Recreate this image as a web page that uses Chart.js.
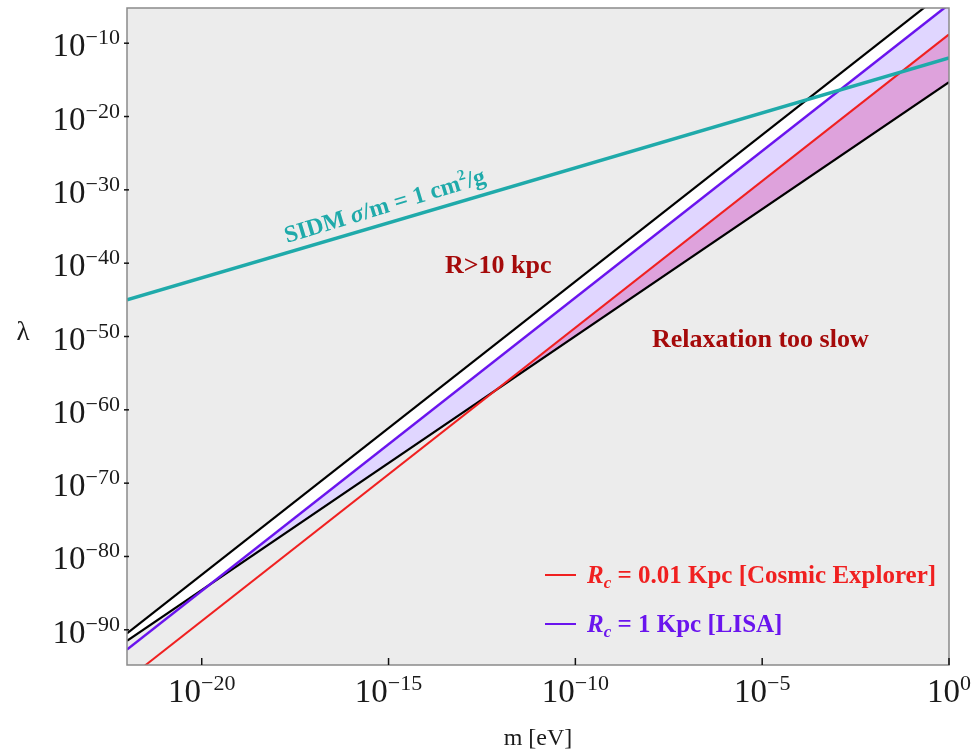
<!DOCTYPE html>
<html>
<head>
<meta charset="utf-8">
<title>SIDM lambda vs m</title>
<script src="https://cdn.jsdelivr.net/npm/chart.js@4.4.1/dist/chart.umd.min.js"></script>
<style>
  body { margin: 0; background: #fff; }
  #wrap { width: 972px; height: 750px; }
</style>
</head>
<body>
<div id="wrap"><canvas id="chart" width="972" height="750"></canvas></div>
<script>
// log10 of the values, at the two ends of the mass range
const massExp = [-22, 0];
const sidmExp = [-45, -12];          // SIDM sigma/m = 1 cm^2/g
const upperBlackExp = [-90.5, -2.5];
const lowerBlackExp = [-91.5, -15.3];
const lisaExp = [-92.7, -4.7];       // Rc = 1 Kpc
const cosmicExp = [-96.8, -8.8];     // Rc = 0.01 Kpc

const xTickExp = [-20, -15, -10, -5, 0];
const yTickExp = [-90, -80, -70, -60, -50, -40, -30, -20, -10];

const SERIF = '"Liberation Serif", "DejaVu Serif", serif';

function toPoints(exps) {
    return massExp.map((e, i) => ({ x: Math.pow(10, e), y: Math.pow(10, exps[i]) }));
}

// draws pieces of text one after the other, each with its own font and shift
function drawRuns(ctx, x, y, runs) {
    let cx = x;
    runs.forEach(r => {
        ctx.font = r.font;
        ctx.fillText(r.text, cx, y + (r.dy || 0));
        cx += ctx.measureText(r.text).width;
    });
    return cx - x;
}

function runsWidth(ctx, runs) {
    let w = 0;
    runs.forEach(r => { ctx.font = r.font; w += ctx.measureText(r.text).width; });
    return w;
}

function powerRuns(exp) {
    const sup = String(exp).replace('-', '\u2212');
    return [
        { text: '10', font: '33px ' + SERIF },
        { text: sup, font: '22px ' + SERIF, dy: -12 }
    ];
}

const paperPlugin = {
    id: 'paper',
    beforeDatasetsDraw(chart) {
        const { ctx, chartArea: a } = chart;
        ctx.save();
        ctx.fillStyle = '#ececec';
        ctx.fillRect(a.left, a.top, a.right - a.left, a.bottom - a.top);
        ctx.restore();
    },
    afterDraw(chart) {
        const { ctx, chartArea: a } = chart;
        const xs = chart.scales.x, ys = chart.scales.y;
        ctx.save();

        // frame
        ctx.strokeStyle = '#8a8a8a';
        ctx.lineWidth = 1.5;
        ctx.strokeRect(a.left, a.top, a.right - a.left, a.bottom - a.top);

        // tick marks
        ctx.strokeStyle = '#111';
        ctx.lineWidth = 1.5;
        xTickExp.forEach(e => {
            const px = xs.getPixelForValue(Math.pow(10, e));
            ctx.beginPath(); ctx.moveTo(px, a.bottom); ctx.lineTo(px, a.bottom - 7); ctx.stroke();
        });
        yTickExp.forEach(e => {
            const py = ys.getPixelForValue(Math.pow(10, e));
            ctx.beginPath(); ctx.moveTo(a.left - 3, py); ctx.lineTo(a.left + 2, py); ctx.stroke();
        });

        // tick labels
        ctx.fillStyle = '#1a1a1a';
        ctx.textBaseline = 'alphabetic';
        ctx.textAlign = 'left';
        xTickExp.forEach(e => {
            const px = xs.getPixelForValue(Math.pow(10, e));
            const runs = powerRuns(e);
            drawRuns(ctx, px - runsWidth(ctx, runs) / 2, 702, runs);
        });
        yTickExp.forEach(e => {
            const py = ys.getPixelForValue(Math.pow(10, e));
            const runs = powerRuns(e);
            drawRuns(ctx, a.left - 7 - runsWidth(ctx, runs), py + 13, runs);
        });

        // axis titles
        ctx.textAlign = 'center';
        ctx.font = '24px ' + SERIF;
        ctx.fillText('m [eV]', (a.left + a.right) / 2, 745);
        ctx.font = '27px ' + SERIF;
        ctx.fillText('\u03bb', 23, 340);
        ctx.textAlign = 'left';

        // SIDM label along its line
        ctx.save();
        ctx.translate(287, 243);
        ctx.rotate(-16.8 * Math.PI / 180);
        ctx.fillStyle = '#1faaaa';
        drawRuns(ctx, 0, 0, [
            { text: 'SIDM ', font: 'bold 24px ' + SERIF },
            { text: '\u03c3', font: 'italic bold 24px ' + SERIF },
            { text: '/m = 1 cm', font: 'bold 24px ' + SERIF },
            { text: '2', font: 'bold 15px ' + SERIF, dy: -10 },
            { text: '/g', font: 'bold 24px ' + SERIF }
        ]);
        ctx.restore();

        // region labels
        ctx.fillStyle = '#a50a0a';
        ctx.font = 'bold 26px ' + SERIF;
        ctx.fillText('R>10 kpc', 445, 273);
        ctx.fillText('Relaxation too slow', 652, 347);

        // legend
        const legend = [
            { color: '#f02020', y: 575, rest: ' = 0.01 Kpc [Cosmic Explorer]' },
            { color: '#6a14ee', y: 624, rest: ' = 1 Kpc [LISA]' }
        ];
        legend.forEach(l => {
            ctx.strokeStyle = l.color;
            ctx.lineWidth = 2;
            ctx.beginPath(); ctx.moveTo(545, l.y); ctx.lineTo(576, l.y); ctx.stroke();
            ctx.fillStyle = l.color;
            drawRuns(ctx, 587, l.y + 8, [
                { text: 'R', font: 'italic bold 25px ' + SERIF },
                { text: 'c', font: 'italic bold 17px ' + SERIF, dy: 5 },
                { text: l.rest, font: 'bold 25px ' + SERIF }
            ]);
        });

        ctx.restore();
    }
};

const line = (label, exps, color, width) => ({
    label, data: toPoints(exps), borderColor: color, borderWidth: width,
    pointRadius: 0, fill: false, order: 0
});

new Chart(document.getElementById('chart'), {
    type: 'line',
    data: {
        datasets: [
            line('SIDM', sidmExp, '#1faaaa', 3.5),            // 0
            line('Rc = 1 Kpc', lisaExp, '#6a14ee', 2.5),      // 1
            line('Rc = 0.01 Kpc', cosmicExp, '#f02020', 2),   // 2
            line('upper', upperBlackExp, '#000', 2.2),        // 3
            line('lower', lowerBlackExp, '#000', 2.2),        // 4
            { label: 'band', data: toPoints(upperBlackExp), borderWidth: 0, pointRadius: 0,
              fill: { target: 4, above: '#ffffff', below: '#ffffff' }, order: 3 },
            { label: 'lisa fill', data: toPoints(lisaExp), borderWidth: 0, pointRadius: 0,
              fill: { target: 4, above: 'rgb(224,214,255)', below: 'rgba(0,0,0,0)' }, order: 2 },
            { label: 'ce fill', data: toPoints(cosmicExp), borderWidth: 0, pointRadius: 0,
              fill: { target: 4, above: 'rgb(222,162,220)', below: 'rgba(0,0,0,0)' }, order: 1 }
        ]
    },
    options: {
        responsive: false,
        animation: false,
        devicePixelRatio: 1,
        layout: { padding: { top: 8, right: 23, left: 0, bottom: 0 } },
        plugins: { legend: { display: false }, tooltip: { enabled: false } },
        scales: {
            x: {
                type: 'logarithmic',
                min: Math.pow(10, -22), max: 1,
                grid: { display: false }, border: { display: false },
                ticks: { display: false },
                afterBuildTicks: s => { s.ticks = xTickExp.map(e => ({ value: Math.pow(10, e) })); },
                afterFit: s => { s.height = 85; }
            },
            y: {
                type: 'logarithmic',
                min: Math.pow(10, -94.8), max: Math.pow(10, -5.2),
                grid: { display: false }, border: { display: false },
                ticks: { display: false },
                afterBuildTicks: s => { s.ticks = yTickExp.map(e => ({ value: Math.pow(10, e) })); },
                afterFit: s => { s.width = 127; }
            }
        }
    },
    plugins: [paperPlugin]
});
</script>
</body>
</html>
